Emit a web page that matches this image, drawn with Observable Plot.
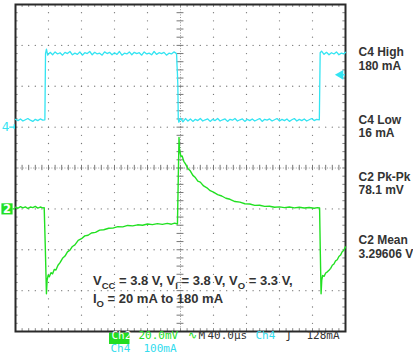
<!DOCTYPE html>
<html><head><meta charset="utf-8">
<script src="https://cdn.jsdelivr.net/npm/d3@7"></script>
<script src="https://cdn.jsdelivr.net/npm/@observablehq/plot@0.6"></script>
<style>body{margin:0;background:#fff;}</style>
</head><body><div id="chart"></div>
<script>
// ---- Data (time in µs, 40 µs/div) ----
// Ch4: load current in mA (100 mA/div, marker "4" at +1 div)
const c4Time = [0,3,6,9,12,15,18,21,24,27,30,33,35.6,
  36.0,36.4,37.5,39,
  42,45,48,51,54,57,60,63,66,69,72,75,78,81,84,87,90,93,96,99,102,105,108,111,114,117,120,123,126,129,132,135,138,141,144,147,150,153,156,159,162,165,168,171,174,177,180,183,186,189,192,194.5,195.3,
  195.8,196.3,196.8,197.3,198,
  200,203,206,209,212,215,218,221,224,227,230,233,236,239,242,245,248,251,254,257,260,263,266,269,272,275,278,281,284,287,290,293,296,299,302,305,308,311,314,317,320,323,326,329,332,335,338,341,344,347,350,353,356,359,362,365,
  368.3,368.8,369.3,371,374,377,380,383,386,389,392,395,398,400];
const c4Current = [19,16,20,15,18,21,17,14,19,16,20,17,18,
  100,180,191,176,
  183,177,184,179,182,176,183,180,185,177,181,178,184,176,182,180,185,177,183,179,181,176,184,180,183,177,182,178,185,176,181,179,184,177,183,180,182,176,184,179,181,177,185,178,182,180,183,176,181,179,184,181,178,
  150,130,100,20,12,
  22,13,21,15,20,14,19,16,21,15,18,20,14,19,16,21,15,18,20,14,19,17,21,15,18,20,14,19,16,20,15,18,21,14,19,17,20,15,18,21,15,19,16,20,14,18,21,15,19,16,20,15,18,21,16,19,
  18,100,182,186,178,183,177,182,179,184,177,181,179,183];

// Ch2: output voltage deviation in mV (20 mV/div, marker "2" at -1 div)
const c2Time = [0,3,6,9,12,15,18,21,24,27,30,33,34.8,
  36.2,37.5,38.3,39.5,41,43,45,47,49,51.5,54,57,60,63,66,69,72,76,80,84,88,92,97,102,107,113,118,124,130,136,142,148,154,160,166,172,178,184,189,193,196.3,
  197.3,198.2,198.8,199.6,200.5,202,204,206,209,212,215,218,221,224,228,232,236,240,245,250,255,260,266,272,278,284,290,296,302,308,314,320,326,332,338,344,350,356,362,366,368.6,
  369.5,370.4,371.2,372.3,374,376,378,380,382,384,386,388,390,392,394,396,398,400];
const c2DeltaMv = [0.8,0.3,1.1,0.5,1.0,0.2,0.9,0.6,1.2,0.4,0.9,0.5,0.6,
  -20,-41.5,-35,-32.5,-33.2,-31.2,-31.8,-29.6,-29.9,-27.6,-26.3,-24.2,-23.1,-21.0,-20.2,-18.4,-17.6,-15.4,-14.6,-13.2,-12.9,-11.8,-11.5,-10.4,-10.2,-9.5,-9.4,-8.7,-8.8,-8.1,-8.3,-7.8,-8.0,-7.4,-7.7,-7.2,-7.6,-7.1,-7.5,-7.0,-7.4,
  15,35,29,27.5,25.6,25.9,23.3,22.0,19.8,18.5,16.4,15.3,13.6,13.1,11.2,10.3,8.9,8.2,7.0,6.3,5.2,4.7,3.6,3.3,2.5,2.4,1.7,1.8,1.2,1.3,0.8,1.0,0.6,0.9,0.5,0.8,0.4,0.7,0.3,0.6,0.4,
  -22,-41.5,-35,-32.6,-33.0,-31.4,-30.8,-30.0,-29.1,-27.6,-27.0,-25.4,-24.9,-23.3,-22.6,-21.0,-20.2,-18.6];

const measureLabels = ["C4 High","180 mA","C4 Low","16 mA","C2 Pk-Pk","78.1 mV","C2 Mean","3.29606 V"];
const triggerLevelMa = 128;
const statusRow1 = [["Ch2","#fff"],["20.0mV","#22dd22"],["\u223F","#22dd22"],["M","#333"],["40.0\u00B5s","#333"],["Ch4","#33dcee"],["\u0283","#222"],["128mA","#333"]];
const statusRow2 = [["Ch4","#33dcee"],["100mA","#33dcee"]];

// ---- layout ----
const CYAN = "#33e4f2", GREEN = "#22e022";
const c4 = c4Time.map((t,i)=>({t, v: 1 + c4Current[i]/100}));
const c2 = c2Time.map((t,i)=>({t, v: -1 + c2DeltaMv[i]/20}));

const minorX = d3.range(0, 400.001, 8);
const minorY = d3.range(-4, 4.001, 0.2).map(v=>+v.toFixed(2));
const majorX = d3.range(40, 400, 40).filter(v=>v!==200);
const majorY = d3.range(-3, 4, 1).filter(v=>v!==0);
const gridDots = [];
for (const gx of majorX) for (const gy of minorY) gridDots.push({x:gx,y:gy});
for (const gy of majorY) for (const gx of minorX) gridDots.push({x:gx,y:gy});

const labelDy = [43,57,111,124,168,180.5,231,245];
const bold = {fontWeight:"bold", fontFamily:"Liberation Sans, Arial, sans-serif", fill:"#333", fontSize:12};

const marks = [
  Plot.dot(gridDots, {x:"x", y:"y", r:0.65, fill:"#777", stroke:null}),
  Plot.ruleY([0], {stroke:"#999", strokeDasharray:"1,1.6"}),
  Plot.ruleX([200], {stroke:"#999", strokeDasharray:"1,1.6"}),
  Plot.ruleX(minorX, {y1:-0.065, y2:0.065, stroke:"#777"}),
  Plot.ruleY(minorY, {x1:195.8, x2:204.2, stroke:"#777"}),
  Plot.ruleY(minorY, {x1:0, x2:3.2, stroke:"#888"}),
  Plot.ruleY(minorY, {x1:396.8, x2:400, stroke:"#888"}),
  Plot.ruleX(minorX, {y1:3.93, y2:4, stroke:"#888"}),
  Plot.ruleX(minorX, {y1:-4, y2:-3.93, stroke:"#888"}),
  Plot.frame({stroke:"#2a2a2a", strokeWidth:2}),
  Plot.line(c4, {x:"t", y:"v", stroke:CYAN, strokeWidth:1.3}),
  Plot.line(c2, {x:"t", y:"v", stroke:GREEN, strokeWidth:1.4}),
  // channel markers
  Plot.text(["4"], {x:0, y:1, dx:-10, fill:CYAN, fontSize:12, fontFamily:"DejaVu Sans, sans-serif"}),
  Plot.ruleY([1], {x1:-7, x2:0, stroke:CYAN, strokeWidth:1.3}),
  Plot.ruleX([-1.5], {y1:0.94, y2:1.06, stroke:CYAN, strokeWidth:1.3}),
  Plot.dot([-1], {x:0, y:d=>d, dx:-8.5, symbol:"square", r:6.3, fill:GREEN, stroke:null}),
  Plot.text(["2"], {x:0, y:-1, dx:-8.5, fill:"#fff", fontSize:11.5, fontWeight:"bold", fontFamily:"DejaVu Sans, sans-serif"}),
  Plot.ruleY([-1], {x1:-3, x2:0, stroke:GREEN, strokeWidth:1.3}),
  // trigger level arrow
  Plot.dot([1 + triggerLevelMa/100], {x:400, y:d=>d, dx:-5, symbol:"triangle", rotate:-90, r:3.6, fill:CYAN, stroke:null}),
  Plot.ruleY([1 + triggerLevelMa/100], {x1:395, x2:400, stroke:CYAN, strokeWidth:1.3}),
  ...measureLabels.map((s,i)=>Plot.text([s], {frameAnchor:"top-right", dx:13, dy:labelDy[i], textAnchor:"start", ...bold}))
];

const mono = {fontFamily:"DejaVu Sans Mono, monospace", fontSize:11, textAnchor:"start"};
const row1Dx = [96,123,172,183,192,240,270,291];
const row2Dx = [95,128];
statusRow1.forEach(([s,c],i)=>marks.push(Plot.text([s], {frameAnchor:"bottom-left", dx:row1Dx[i], dy:7.5, fill:c, ...mono})));
statusRow2.forEach(([s,c],i)=>marks.push(Plot.text([s], {frameAnchor:"bottom-left", dx:row2Dx[i], dy:20, fill:c, ...mono})));

const plot = Plot.plot({
  width:413, height:358,
  marginLeft:15, marginRight:68, marginTop:4, marginBottom:27,
  x:{domain:[0,400], axis:null},
  y:{domain:[-4,4], axis:null},
  style:{background:"#fff", overflow:"visible"},
  marks
});

const svg = d3.select(plot);
const sx = plot.scale("x"), sy = plot.scale("y");
// "Ch2" highlighted box, placed behind all marks
const bx = sx.apply(0) + 95, by = sy.apply(-4) + 1.5;
const box = svg.append("rect")
  .attr("x", bx - 1).attr("y", by).attr("width", 20.5).attr("height", 11.5).attr("fill", "#22dd22").node();
plot.insertBefore(box, plot.firstChild.nextSibling);

// condition annotation with subscripts
const ann = [
  [[ "V",0],["CC",1],[" = 3.8 V, V",0],["I",1],[" = 3.8 V, V",0],["O",1],[" = 3.3 V,",0]],
  [[ "I",0],["O",1],[" = 20 mA to 180 mA",0]]
];
const annY = [-2.875, -3.315];
ann.forEach((parts,li)=>{
  const t = svg.append("text")
    .attr("x", sx.apply(94.5)).attr("y", sy.apply(annY[li]))
    .attr("text-anchor","start")
    .attr("font-family","Liberation Sans, Arial, sans-serif")
    .attr("font-weight","bold").attr("font-size",13).attr("fill","#333");
  let sub = 0;
  parts.forEach(([s,isSub])=>{
    const ts = t.append("tspan").text(s);
    if (isSub && !sub) { ts.attr("dy",3.5).attr("font-size",9.5); sub=1; }
    else if (!isSub && sub) { ts.attr("dy",-3.5); sub=0; }
    else if (isSub) ts.attr("font-size",9.5);
  });
});
document.getElementById("chart").appendChild(plot);
</script>
</body></html>
